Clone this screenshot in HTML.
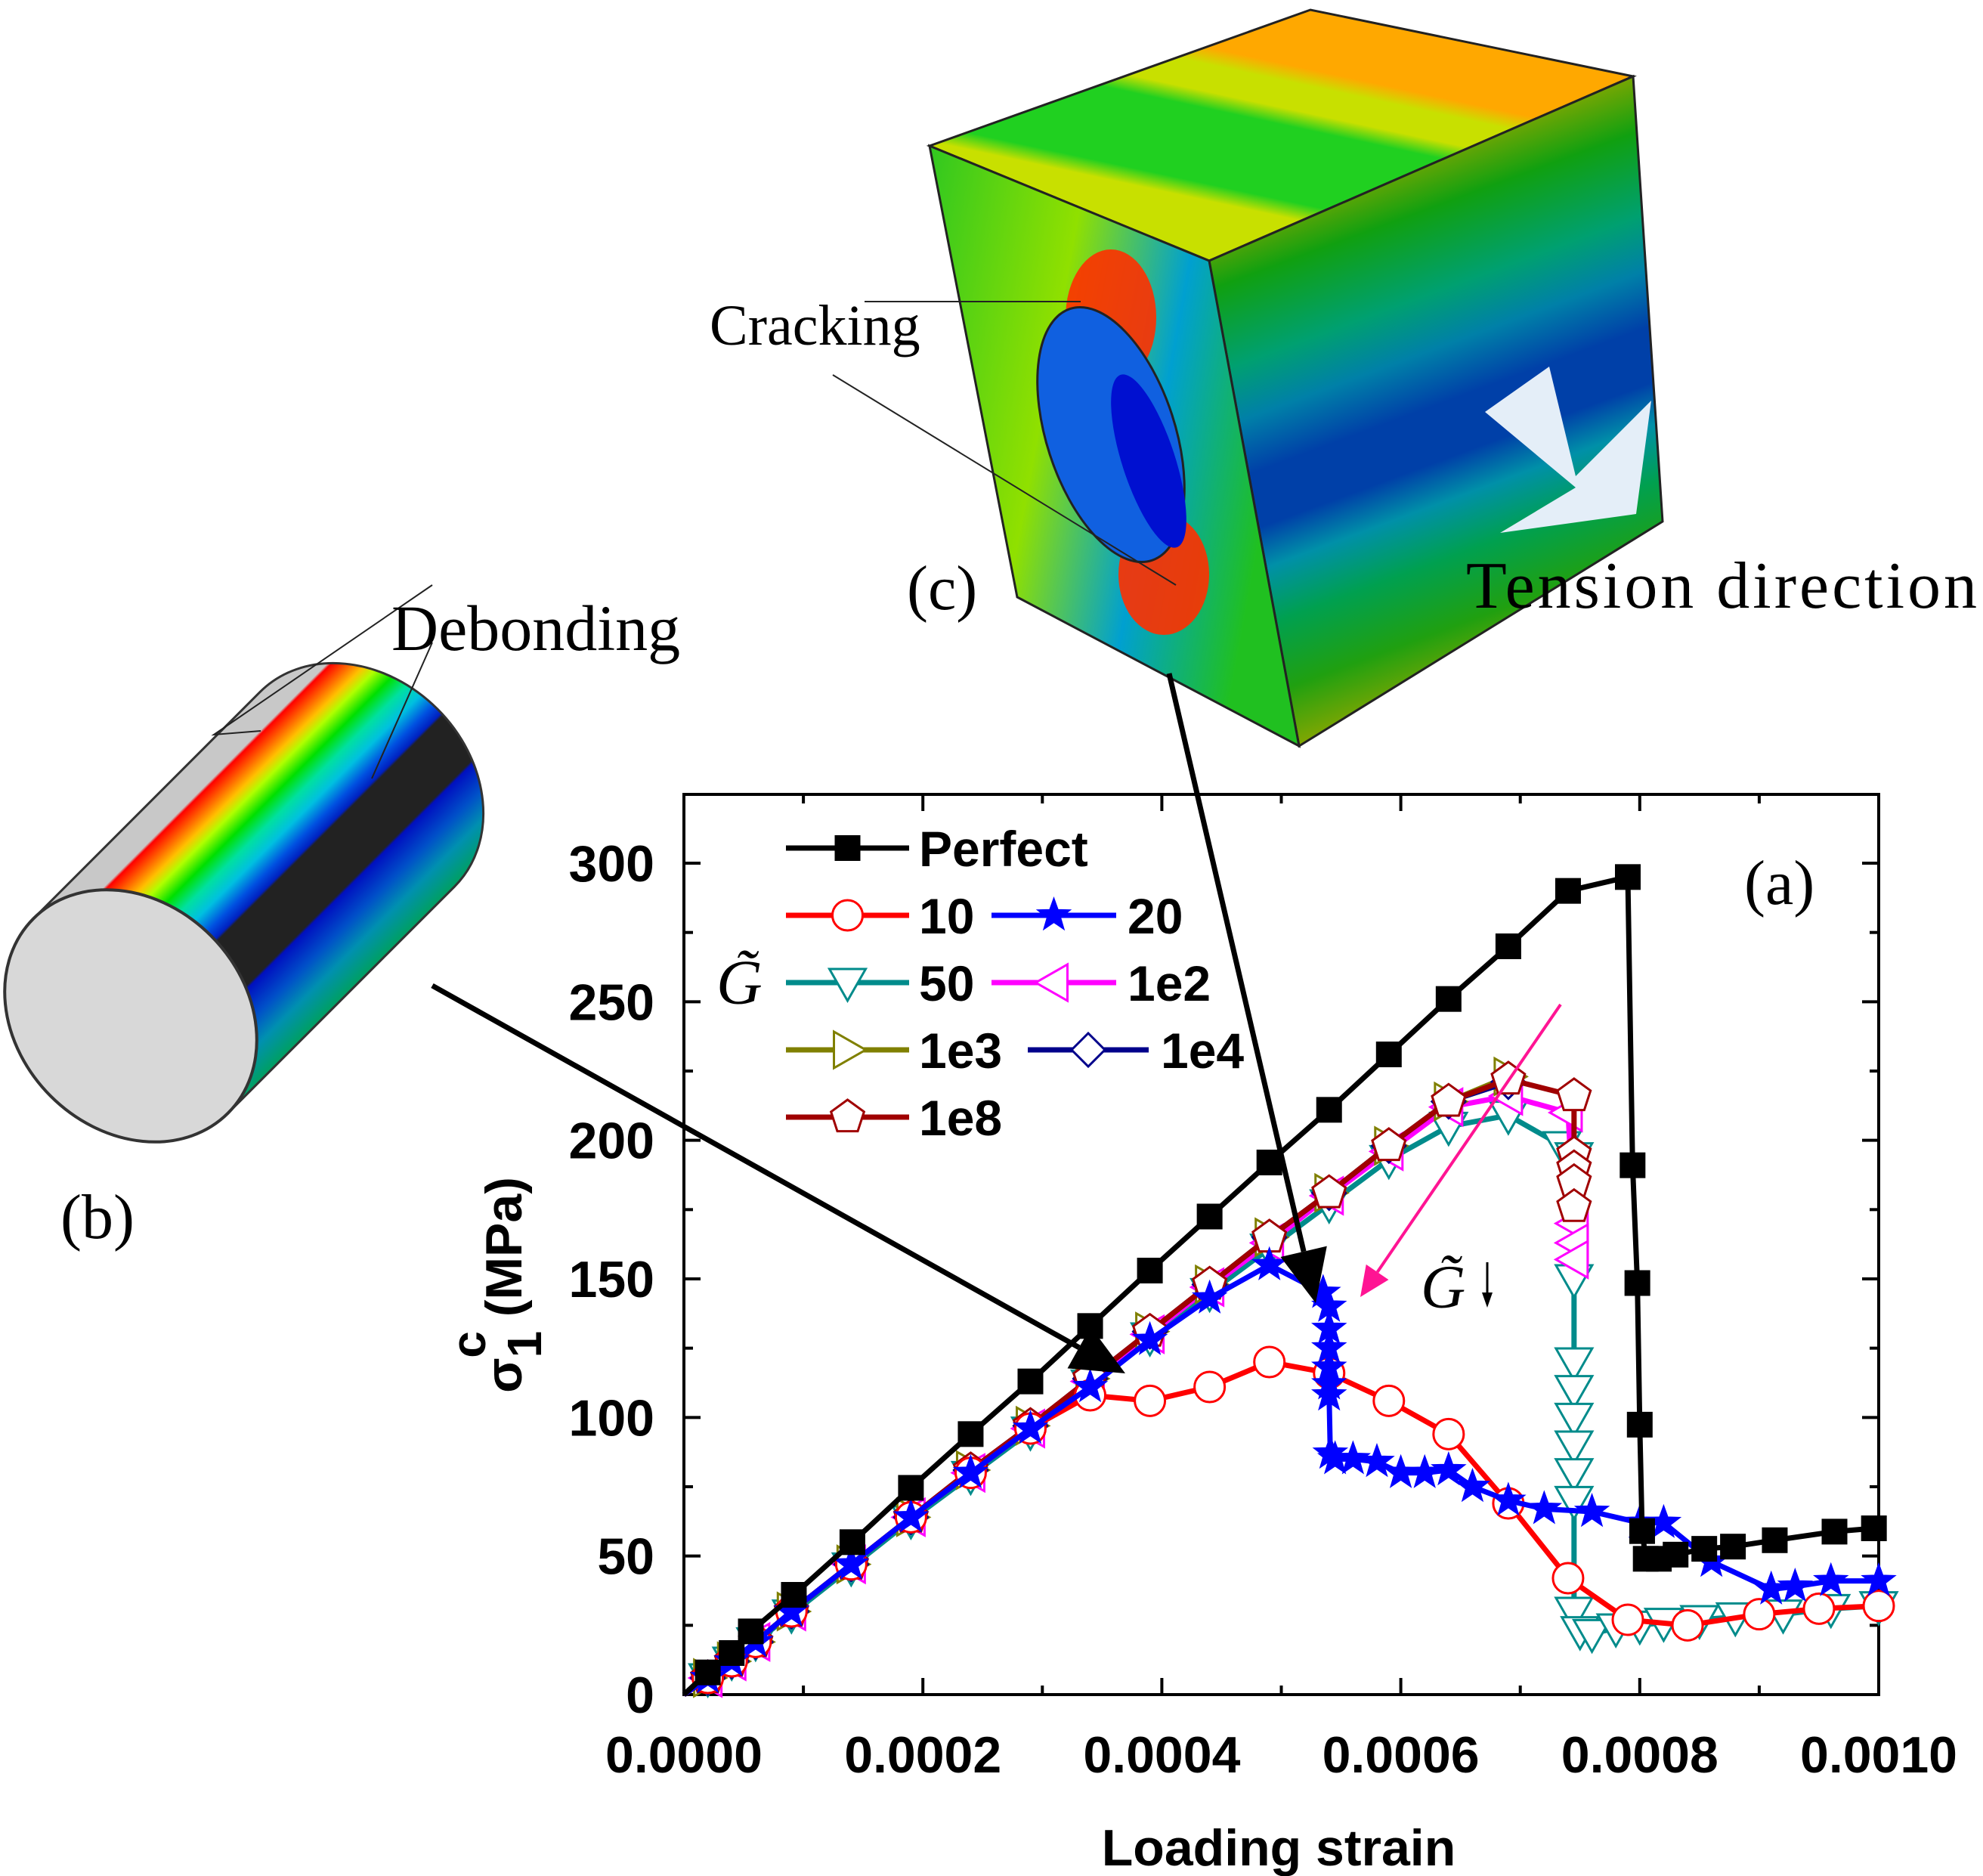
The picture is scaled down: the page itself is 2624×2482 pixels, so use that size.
<!DOCTYPE html>
<html><head><meta charset="utf-8"><style>
html,body{margin:0;padding:0;background:#fff;}
svg{display:block;}
.tk{font-family:"Liberation Sans",Arial,sans-serif;font-weight:bold;font-size:68px;fill:#000;}
.lg{font-family:"Liberation Sans",Arial,sans-serif;font-weight:bold;font-size:66px;fill:#000;}
.sr{font-family:"Liberation Serif","Times New Roman",serif;fill:#000;}
</style></head><body>
<svg id="fig" width="2624" height="2482" viewBox="0 0 2624 2482" xmlns="http://www.w3.org/2000/svg">
<defs>
<linearGradient id="cylg" x1="0" y1="0" x2="0" y2="1">
<stop offset="0" stop-color="#c8c8c8"/><stop offset="0.1" stop-color="#c8c8c8"/>
<stop offset="0.11" stop-color="#ff0000"/><stop offset="0.16" stop-color="#ff6a00"/>
<stop offset="0.2" stop-color="#ffc000"/><stop offset="0.24" stop-color="#b0ff00"/>
<stop offset="0.3" stop-color="#00e000"/><stop offset="0.36" stop-color="#00e0a0"/>
<stop offset="0.42" stop-color="#00c0e0"/><stop offset="0.48" stop-color="#0050e0"/>
<stop offset="0.52" stop-color="#0020c0"/><stop offset="0.53" stop-color="#222"/>
<stop offset="0.72" stop-color="#222"/><stop offset="0.73" stop-color="#0010c0"/>
<stop offset="0.82" stop-color="#0050c8"/><stop offset="0.9" stop-color="#0090b0"/>
<stop offset="1" stop-color="#00a060"/>
</linearGradient>
<linearGradient id="rightg" x1="0" y1="0" x2="0.25" y2="1">
<stop offset="0" stop-color="#ffa800"/><stop offset="0.12" stop-color="#b08000"/>
<stop offset="0.2" stop-color="#90a800"/><stop offset="0.3" stop-color="#10a010"/>
<stop offset="0.42" stop-color="#00a070"/><stop offset="0.5" stop-color="#0080a8"/>
<stop offset="0.58" stop-color="#0040a8"/><stop offset="0.66" stop-color="#0040a8"/>
<stop offset="0.72" stop-color="#0090a8"/><stop offset="0.8" stop-color="#00a050"/>
<stop offset="0.9" stop-color="#20a010"/><stop offset="1" stop-color="#90a800"/>
</linearGradient>
<linearGradient id="topg" x1="0" y1="1" x2="0.6" y2="0">
<stop offset="0" stop-color="#c8e000"/><stop offset="0.35" stop-color="#c8e000"/>
<stop offset="0.4" stop-color="#20d020"/><stop offset="0.62" stop-color="#20d020"/>
<stop offset="0.67" stop-color="#c8e000"/><stop offset="0.75" stop-color="#c8e000"/>
<stop offset="0.8" stop-color="#ffa800"/><stop offset="1" stop-color="#ffa800"/>
</linearGradient>
<linearGradient id="frontg" x1="0" y1="0" x2="1" y2="0.3">
<stop offset="0" stop-color="#30c820"/><stop offset="0.4" stop-color="#90e000"/>
<stop offset="0.7" stop-color="#00a0d0"/><stop offset="1" stop-color="#20c020"/>
</linearGradient>
</defs>

<g>
<polygon points="1230,193 1734,13 2161,101 1600,345" fill="url(#topg)" stroke="#222" stroke-width="3"/>
<polygon points="1600,345 2161,101 2200,690 1719,987" fill="url(#rightg)" stroke="#222" stroke-width="3"/>
<polygon points="1230,193 1600,345 1719,987 1346,790" fill="url(#frontg)" stroke="#222" stroke-width="3"/>
<ellipse cx="1470" cy="420" rx="60" ry="90" fill="#ff3000" opacity="0.9"/>
<ellipse cx="1540" cy="760" rx="60" ry="80" fill="#ff3000" opacity="0.9"/>
<ellipse cx="1470" cy="575" rx="85" ry="175" transform="rotate(-18 1470 575)" fill="#1060e0" stroke="#222" stroke-width="3"/>
<ellipse cx="1520" cy="610" rx="35" ry="120" transform="rotate(-18 1520 610)" fill="#0010d0"/>
<polygon points="1965,545 2050,485 2085,630 2185,530 2165,680 1985,705 2085,645" fill="#e4eef8"/>
</g>
<line x1="1144" y1="399" x2="1430" y2="399" stroke="#222" stroke-width="2"/>
<line x1="1102" y1="496" x2="1556" y2="774" stroke="#222" stroke-width="2"/>
<text class="sr" x="939" y="456" font-size="76">Cracking</text>
<text class="sr" x="1200" y="806" font-size="84">(c)</text>
<text class="sr" x="1940" y="804" font-size="88" textLength="676">Tension direction</text>

<g transform="translate(173,1344) rotate(-45)">
<path d="M0,-182 L424,-182 A150,182 0 0 1 424,182 L0,182 Z" fill="url(#cylg)" stroke="#333" stroke-width="3"/>
<ellipse cx="0" cy="0" rx="150" ry="182" fill="#d8d8d8" stroke="#333" stroke-width="4"/>
</g>
<polyline points="572,774 283,972 345,967" fill="none" stroke="#222" stroke-width="2"/>
<line x1="572" y1="850" x2="492" y2="1030" stroke="#222" stroke-width="2"/>
<text class="sr" x="518" y="860" font-size="86">Debonding</text>
<text class="sr" x="80" y="1638" font-size="84">(b)</text>

<g id="chart"></g>
</svg>
<script>
const xTicks=[0,0.0002,0.0004,0.0006,0.0008,0.0010];
const xTickLabels=["0.0000","0.0002","0.0004","0.0006","0.0008","0.0010"];
const yTicks=[0,50,100,150,200,250,300];
const yTickLabels=["0","50","100","150","200","250","300"];
const ramp=[0,0.00002,0.00004,0.00006,0.00009,0.00014,0.00019,0.00024,0.00029,0.00034,0.00039,0.00044,0.00049,0.00054,0.00059,0.00064,0.00069];
const perfectX=[0,0.00002,0.00004,0.000056,0.000092,0.000141,0.00019,0.00024,0.00029,0.00034,0.00039,0.00044,0.00049,0.00054,0.00059,0.00064,0.00069,0.00074,0.00079,0.000794,0.000798,0.0008,0.000802,0.000805,0.000816,0.00083,0.000854,0.000878,0.000913,0.000963,0.000996];
const perfectY=[0,8,15,22.8,36,55,74.6,94,113,133,153,172.5,192,211,231,251,270,290,295,191,148.5,97.4,59,49,49,50.5,52.6,53.4,55.7,58.8,60];
const g10X=[0,0.00002,0.00004,0.00006,0.00009,0.00014,0.00019,0.00024,0.00029,0.00034,0.00039,0.00044,0.00049,0.00054,0.00059,0.00064,0.00069,0.00074,0.00079,0.00084,0.0009,0.00095,0.001];
const g10Y=[0,6,12,19,30,47,64,80,96,108,106,111,120,116,106,94,69,42,27,25,29,31,32];
const g20X=[0,0.00002,0.00004,0.00006,0.00009,0.00014,0.00019,0.00024,0.00029,0.00034,0.00039,0.00044,0.00049,0.000535,0.00054,0.00054,0.00054,0.00054,0.00054,0.00054,0.000541,0.000545,0.00056,0.00058,0.0006,0.00062,0.00064,0.00066,0.00069,0.00072,0.00076,0.0008,0.00082,0.00086,0.00091,0.00093,0.00096,0.001];
const g20Y=[0,6,12,19,30,47,64,80,96,111,128,143,155,145,140,132,125,118,112,108,87,85,85,84,80,80,81,75,70,67,66,62,62,48,38,39,41,41];
const g50X=[0,0.00002,0.00004,0.00006,0.00009,0.00014,0.00019,0.00024,0.00029,0.00034,0.00039,0.00044,0.00049,0.00054,0.00059,0.00064,0.00069,0.000735,0.000745,0.000745,0.000745,0.000745,0.000745,0.000745,0.000745,0.000745,0.000745,0.00075,0.00076,0.00078,0.0008,0.00082,0.00085,0.00088,0.00092,0.00096,0.001];
const g50Y=[0,6,12,19,29,46,63,79,95,112,129,145,161,177,193,205,209,198,194,150,120,110,100,90,80,70,30,23,22,24,25,26,27,28,29,31,32];
const g1e2X=[0,0.00002,0.00004,0.00006,0.00009,0.00014,0.00019,0.00024,0.00029,0.00034,0.00039,0.00044,0.00049,0.00054,0.00059,0.00064,0.00069,0.00074,0.000745,0.000745,0.000745];
const g1e2Y=[0,6,12,19,30,47,64,80,96,113,130,147,163,180,196,212,216,210,170,163,157];
const g1e3Y=[0,6,12,19,30,47,64,81,97,114,131,148,165,181,198,214,223];
const g1e4Y=[0,6,12,19,30,47,64,81,97,114,131,148,165,181,198,214,221];
const g1e8X=[0,0.00002,0.00004,0.00006,0.00009,0.00014,0.00019,0.00024,0.00029,0.00034,0.00039,0.00044,0.00049,0.00054,0.00059,0.00064,0.00069,0.000745,0.000745,0.000745,0.000745,0.000745];
const g1e8Y=[0,6,12,19,30,47,64,81,97,114,131,148,165,181,198,214,222,216,195,190,185,176];

const L=905,R=2486,T=1051,B=2242;
function X(v){return L+v/0.001*(R-L);}
function Y(v){return B-v*(B-1142)/300;}
const NS="http://www.w3.org/2000/svg";
const chart=document.getElementById('chart');
function mk(tag,attrs,parent){const e=document.createElementNS(NS,tag);for(const k in attrs)e.setAttribute(k,attrs[k]);(parent||chart).appendChild(e);return e;}

const frame=mk('rect',{x:L,y:T,width:R-L,height:B-T,fill:'none',stroke:'#000','stroke-width':4});


for(let i=0;i<=10;i++){
  const v=i*0.0001, x=X(v), len=(i%2===0)?22:12;
  mk('line',{x1:x,y1:B,x2:x,y2:B-len,stroke:'#000','stroke-width':4});
  mk('line',{x1:x,y1:T,x2:x,y2:T+len,stroke:'#000','stroke-width':4});
}
for(let v=0;v<=325;v+=25){
  const y=Y(v), len=(v%50===0)?22:12;
  if(y<T)continue;
  mk('line',{x1:L,y1:y,x2:L+len,y2:y,stroke:'#000','stroke-width':4});
  mk('line',{x1:R,y1:y,x2:R-len,y2:y,stroke:'#000','stroke-width':4});
}
xTicks.forEach((v,i)=>{
  const t=mk('text',{x:X(v),y:2345,'text-anchor':'middle',class:'tk'});t.textContent=xTickLabels[i];
  
  
});
yTicks.forEach((v,i)=>{
  const t=mk('text',{x:866,y:Y(v)+24,'text-anchor':'end',class:'tk'});t.textContent=yTickLabels[i];
  
  
});
const xt=mk('text',{x:1692,y:2468,'text-anchor':'middle',class:'tk','font-size':88});xt.textContent='Loading strain';


const yt=mk('text',{transform:'translate(690,1700) rotate(-90)','text-anchor':'middle',class:'tk','font-size':96});
yt.innerHTML='σ<tspan font-size="64" dy="26">1</tspan><tspan font-size="64" dy="-74" dx="-36">c</tspan><tspan dy="48"> (MPa)</tspan>';



function marker(type,x,y,col,g){
  if(type==='square'){mk('rect',{x:x-17,y:y-17,width:34,height:34,fill:col},g);}
  else if(type==='circle'){mk('circle',{cx:x,cy:y,r:20,fill:'#fff',stroke:col,'stroke-width':3},g);}
  else if(type==='tridown'){mk('polygon',{points:`${x-24},${y-18} ${x+24},${y-18} ${x},${y+24}`,fill:'#fff',stroke:col,'stroke-width':3},g);}
  else if(type==='trileft'){mk('polygon',{points:`${x+18},${y-24} ${x+18},${y+24} ${x-24},${y}`,fill:'#fff',stroke:col,'stroke-width':3},g);}
  else if(type==='triright'){mk('polygon',{points:`${x-18},${y-24} ${x-18},${y+24} ${x+24},${y}`,fill:'#fff',stroke:col,'stroke-width':3},g);}
  else if(type==='diamond'){mk('polygon',{points:`${x},${y-22} ${x+22},${y} ${x},${y+22} ${x-22},${y}`,fill:'#fff',stroke:col,'stroke-width':3},g);}
  else if(type==='pent'){let p=[];for(let k=0;k<5;k++){const a=-Math.PI/2+k*2*Math.PI/5;p.push((x+23*Math.cos(a))+','+(y+23*Math.sin(a)));}
    mk('polygon',{points:p.join(' '),fill:'#fff',stroke:col,'stroke-width':3},g);}
  else if(type==='star'){let p=[];for(let k=0;k<10;k++){const a=-Math.PI/2+k*Math.PI/5,r=(k%2?9:22);p.push((x+r*Math.cos(a))+','+(y+r*Math.sin(a)));}
    mk('polygon',{points:p.join(' '),fill:col,stroke:col,'stroke-width':2},g);}
}
function series(name,xs,ys,col,type){
  const g=mk('g',{});
  
  
  mk('polyline',{points:xs.map((v,i)=>X(v)+','+Y(ys[i])).join(' '),fill:'none',stroke:col,'stroke-width':7,'stroke-linejoin':'round'},g);
  xs.forEach((v,i)=>{if(i>0)marker(type,X(v),Y(ys[i]),col,g);});
}
series('series-g50',g50X,g50Y,'#008b8b','tridown');
series('series-g1e2',g1e2X,g1e2Y,'#ff00ff','trileft');
series('series-g1e3',ramp,g1e3Y,'#808000','triright');
series('series-g1e4',ramp,g1e4Y,'#00008b','diamond');
series('series-g1e8',g1e8X,g1e8Y,'#a00000','pent');
series('series-g10',g10X,g10Y,'#ff0000','circle');
series('series-g20',g20X,g20Y,'#0000ff','star');
series('series-perfect',perfectX,perfectY,'#000','square');

const lg=mk('g',{});


function entry(name,x1,x2,y,col,type,label,tx){
  const g=mk('g',{},lg);
  
  
  mk('line',{x1:x1,y1:y,x2:x2,y2:y,stroke:col,'stroke-width':7},g);
  marker(type,(x1+x2)/2,y,col,g);
  const t=mk('text',{x:tx,y:y+24,class:'lg'},g);t.textContent=label;
}
entry('legend-entry-perfect',1040,1203,1122,'#000','square','Perfect',1216);
entry('legend-entry-g10',1040,1203,1211,'#ff0000','circle','10',1216);
entry('legend-entry-g20',1312,1477,1211,'#0000ff','star','20',1492);
entry('legend-entry-g50',1040,1203,1300,'#008b8b','tridown','50',1216);
entry('legend-entry-g1e2',1312,1477,1300,'#ff00ff','trileft','1e2',1492);
entry('legend-entry-g1e3',1040,1203,1389,'#808000','triright','1e3',1216);
entry('legend-entry-g1e4',1360,1520,1389,'#00008b','diamond','1e4',1536);
entry('legend-entry-g1e8',1040,1203,1478,'#a00000','pent','1e8',1216);
const gl=mk('text',{x:948,y:1328,class:'sr','font-size':84,'font-style':'italic'});gl.textContent='G̃';


const pa=mk('text',{x:2308,y:1196,class:'sr','font-size':84});pa.textContent='(a)';


const gd=mk('text',{x:1880,y:1730,class:'sr','font-size':82,'font-style':'italic'});gd.textContent='G̃';


mk('line',{x1:1968,y1:1670,x2:1968,y2:1722,stroke:'#000','stroke-width':3});
mk('polygon',{points:'1961,1710 1975,1710 1968,1730',fill:'#000'});

function arrow(name,x1,y1,x2,y2,col,w,hs){
  const g=mk('g',{});
  
  
  const a=Math.atan2(y2-y1,x2-x1);
  const bx=x2-hs*Math.cos(a),by=y2-hs*Math.sin(a);
  mk('line',{x1:x1,y1:y1,x2:bx,y2:by,stroke:col,'stroke-width':w},g);
  const px=-Math.sin(a)*hs*0.45,py=Math.cos(a)*hs*0.45;
  mk('polygon',{points:`${x2},${y2} ${bx+px},${by+py} ${bx-px},${by-py}`,fill:col},g);
}
arrow('debonding-arrow',572,1304,1489,1817,'#000',7,70);
arrow('cracking-arrow',1547,891,1741,1724,'#000',7,70);
arrow('g-decrease-arrow',2065,1329,1800,1716,'#ff1493',4,40);
</script>
</body></html>
